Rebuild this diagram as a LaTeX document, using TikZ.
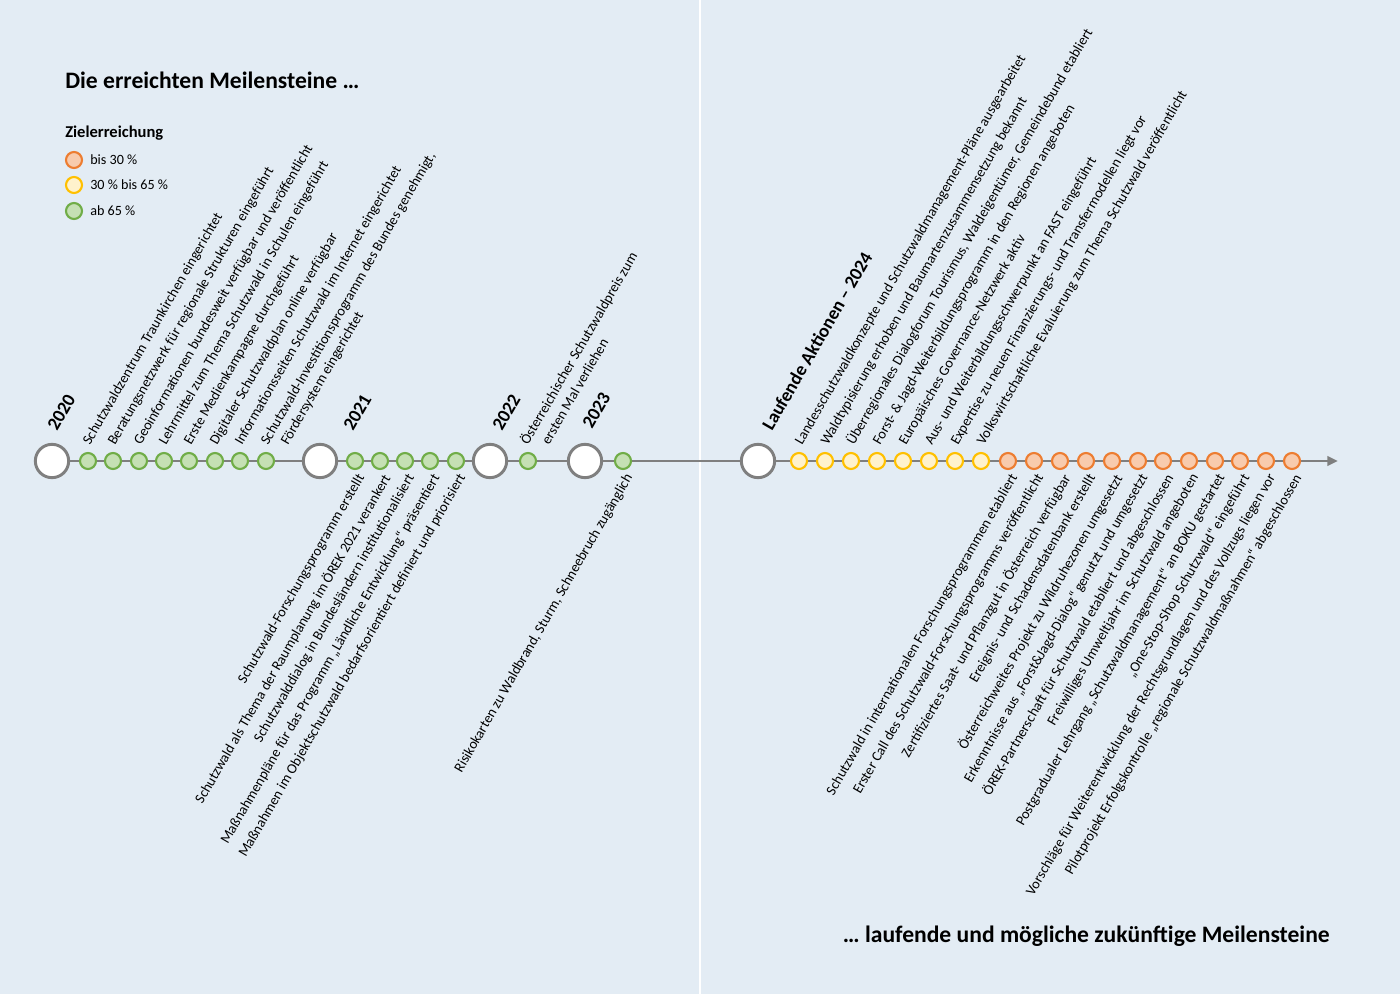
\documentclass[tikz,border=0pt]{standalone}
\usepackage{fontspec}
\setmainfont{Carlito}
\usetikzlibrary{arrows.meta}
\definecolor{bg}{HTML}{E3ECF4}
\definecolor{ln}{HTML}{7F7F7F}
\definecolor{grline}{HTML}{70AD47}\definecolor{grfill}{HTML}{C5E0B4}
\definecolor{yeline}{HTML}{FFC000}\definecolor{yefill}{HTML}{FFF2CC}
\definecolor{orline}{HTML}{ED7D31}\definecolor{orfill}{HTML}{F8CBAD}
\tikzset{
  big/.style={circle,draw=ln,fill=white,line width=2.2pt,minimum size=25pt,inner sep=0},
  gr/.style={circle,draw=grline,fill=grfill,line width=1.6pt,minimum size=12pt,inner sep=0},
  ye/.style={circle,draw=yeline,fill=yefill,line width=1.6pt,minimum size=12pt,inner sep=0},
  orr/.style={circle,draw=orline,fill=orfill,line width=1.6pt,minimum size=12pt,inner sep=0},
  up/.style={rotate=60,anchor=base west,inner sep=0,font=\fontsize{10.7}{12}\selectfont},
  dn/.style={rotate=60,anchor=north east,inner sep=0,font=\fontsize{10.7}{12}\selectfont},
  yr/.style={rotate=60,anchor=base west,inner sep=0,font=\fontsize{14}{16}\selectfont\bfseries},
  lg/.style={anchor=west,inner sep=0,font=\fontsize{10.6}{12}\selectfont},
}
\begin{document}
\begin{tikzpicture}[x=0.75pt,y=-0.75pt]
\fill[bg] (0,0) rectangle (1400,994);
\useasboundingbox (0,0) rectangle (1400,994);
\draw[white,line width=0.8pt] (700,0) -- (700,994);
\coordinate (s) at (52,461);
\coordinate (e) at (1338,461);
\draw[ln,line width=2.2pt,-{Triangle[length=8pt,width=7pt]}] (s) -- (e);
\node[big] (y20) at (52,461) {};
\node[big] (y21) at (320,461) {};
\node[big] (y22) at (490,461) {};
\node[big] (y23) at (585,461) {};
\node[big] (y24) at (758,461) {};
\foreach \x [count=\i] in {88,113,139,164,189,215,240,266} \node[gr] (a\i) at (\x,461) {};
\foreach \x [count=\i] in {355,380,405,430,456} \node[gr] (b\i) at (\x,461) {};
\node[gr] (c1) at (528,461) {};
\node[gr] (d1) at (623,461) {};
\foreach \x [count=\i] in {799,825,851,877,903,929,955,981} \node[ye] (f\i) at (\x,461) {};
\foreach \x [count=\i] in {1008,1034,1060,1086,1112,1138,1163,1189,1215,1240,1266,1292} \node[orr] (g\i) at (\x,461) {};
\node[yr] (t20) at (57,432) {2020};
\node[yr] (t21) at (353,432) {2021};
\node[yr] (t22) at (502,432) {2022};
\node[yr] (t23) at (592,430) {2023};
\node[yr] (t24) at (772,432) {Laufende Aktionen – 2024};
\node[anchor=west,inner sep=0,font=\fontsize{17.7}{20}\selectfont\bfseries] (h1) at (65,80) {Die erreichten Meilensteine …};
\node[anchor=east,inner sep=0,font=\fontsize{17.7}{20}\selectfont\bfseries] (h2) at (1330,936) {… laufende und mögliche zukünftige Meilensteine};
\node[anchor=west,inner sep=0,font=\fontsize{12.4}{14}\selectfont\bfseries] (lt) at (65,133) {Zielerreichung};
\node[orr] (l1) at (74,160) {}; \node[lg] (lx1) at (90,160) {bis 30 \%};
\node[ye] (l2) at (74,185) {}; \node[lg] (lx2) at (90,185) {30 \% bis 65 \%};
\node[gr] (l3) at (74,211) {}; \node[lg] (lx3) at (90,211) {ab 65 \%};
\foreach \x/\t [count=\i] in {
 88/Schutzwaldzentrum Traunkirchen eingerichtet,
 113/Beratungsnetzwerk für regionale Strukturen eingeführt,
 139/Geoinformationen bundesweit verfügbar und veröffentlicht,
 164/Lehrmittel zum Thema Schutzwald in Schulen eingeführt,
 189/Erste Medienkampagne durchgeführt,
 215/Digitaler Schutzwaldplan online verfügbar,
 240/Informationsseiten Schutzwald im Internet eingerichtet,
 266/{Schutzwald-Investitionsprogramm des Bundes genehmigt,}}
 \node[up] (ua\i) at (\x+2,446) {\t};
\node[up] (ua9) at (288,446) {Fördersystem eingerichtet};
\node[up] (uc1) at (528,446) {Österreichischer Schutzwaldpreis zum};
\node[up] (uc2) at (549,446) {ersten Mal verliehen};
\node[dn] (db1) at (356,472) {Schutzwald-Forschungsprogramm erstellt};
\node[dn] (db2) at (381,472) {Schutzwald als Thema der Raumplanung im ÖREK 2021 verankert};
\node[dn] (db3) at (406,472) {Schutzwalddialog in Bundesländern institutionalisiert};
\node[dn] (db4) at (431,472) {Maßnahmenpläne für das Programm „Ländliche Entwicklung“ präsentiert};
\node[dn] (db5) at (457,472) {Maßnahmen im Objektschutzwald bedarfsorientiert definiert und priorisiert};
\node[dn] (dd1) at (624,472) {Risikokarten zu Waldbrand, Sturm, Schneebruch zugänglich};
\foreach \x/\t [count=\i] in {
 799/Landesschutzwaldkonzepte und Schutzwaldmanagement-Pläne ausgearbeitet,
 825/Waldtypisierung erhoben und Baumartenzusammensetzung bekannt,
 851/{Überregionales Dialogforum Tourismus, Waldeigentümer, Gemeindebund etabliert},
 877/Forst- \& Jagd-Weiterbildungsprogramm in den Regionen angeboten,
 903/Europäisches Governance-Netzwerk aktiv,
 929/Aus- und Weiterbildungsschwerpunkt an FAST eingeführt,
 955/Expertise zu neuen Finanzierungs- und Transfermodellen liegt vor,
 981/Volkswirtschaftliche Evaluierung zum Thema Schutzwald veröffentlicht}
 \node[up] (uf\i) at (\x+3,446) {\t};
\foreach \x/\t [count=\i] in {
 1008/Schutzwald in internationalen Forschungsprogrammen etabliert,
 1034/Erster Call des Schutzwald-Forschungsprogramms veröffentlicht,
 1060/Zertifiziertes Saat- und Pflanzgut in Österreich verfügbar,
 1086/Ereignis- und Schadensdatenbank erstellt,
 1112/Österreichweites Projekt zu Wildruhezonen umgesetzt,
 1138/Erkenntnisse aus „Forst\&Jagd-Dialog“ genutzt und umgesetzt,
 1163/ÖREK-Partnerschaft für Schutzwald etabliert und abgeschlossen,
 1189/Freiwilliges Umweltjahr im Schutzwald angeboten,
 1215/Postgradualer Lehrgang „Schutzwaldmanagement“ an BOKU gestartet,
 1240/„One-Stop-Shop Schutzwald“ eingeführt,
 1266/Vorschläge für Weiterentwicklung der Rechtsgrundlagen und des Vollzugs liegen vor,
 1292/Pilotprojekt Erfolgskontrolle „regionale Schutzwaldmaßnahmen“ abgeschlossen}
 \node[dn] (dg\i) at (\x+1,472) {\t};
\end{tikzpicture}
\end{document}
